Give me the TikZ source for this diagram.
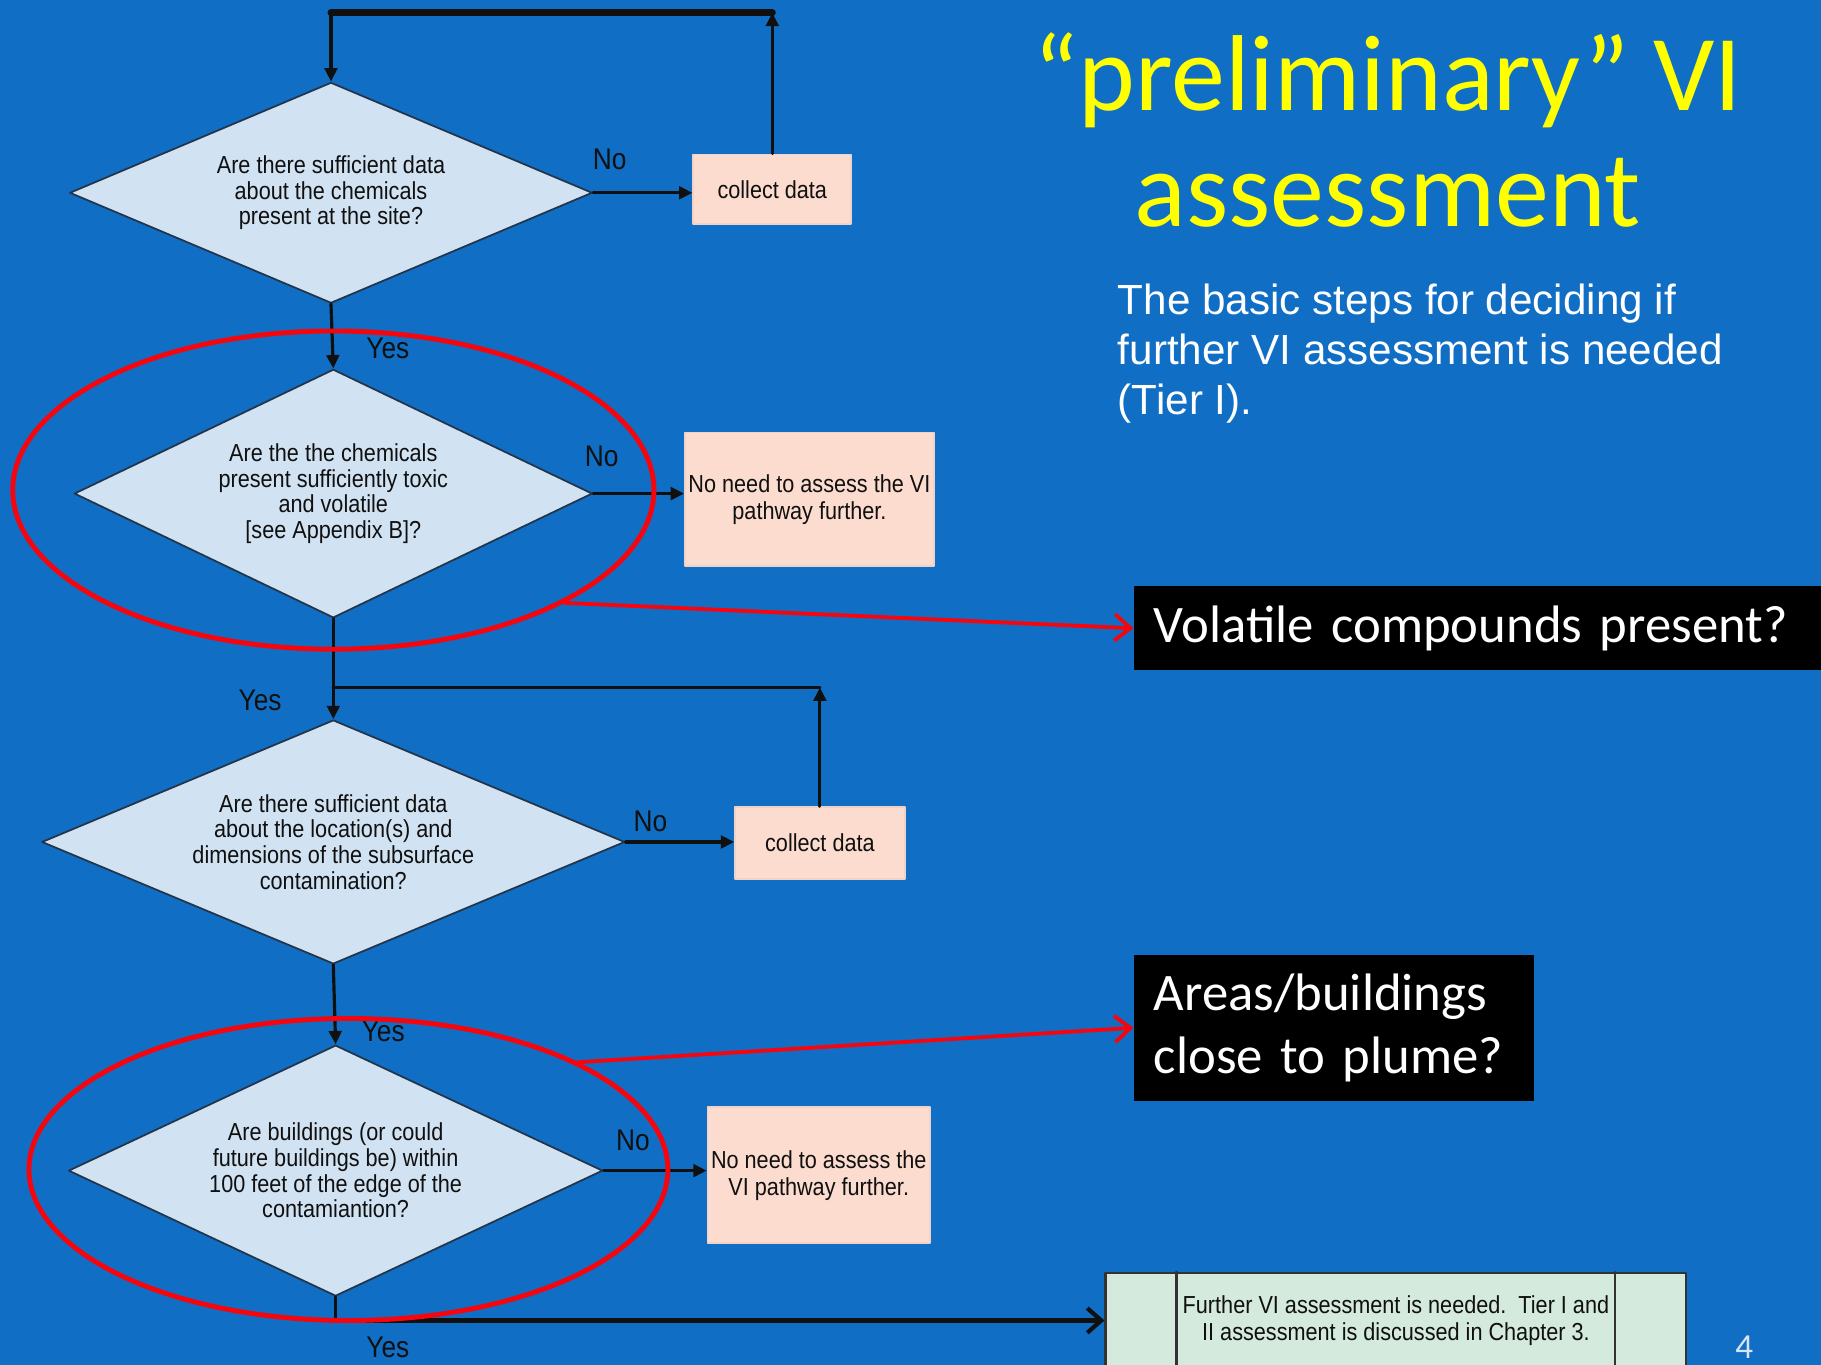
\documentclass[tikz,border=0pt]{standalone}
\usepackage{fontspec}
\setmainfont{Carlito}
\newfontfamily\subfont{Liberation Sans}
\newfontfamily\chartfont{Liberation Sans}[FakeStretch=0.88]
\usepackage{tikz}
\usetikzlibrary{arrows.meta,positioning,calc,shapes.geometric}
\definecolor{slide}{HTML}{106EC4}
\definecolor{titleyellow}{HTML}{FFFF00}
\definecolor{diafill}{HTML}{D1E2F2}
\definecolor{diadraw}{HTML}{23354A}
\definecolor{peach}{HTML}{FCDCCF}
\definecolor{peachline}{HTML}{EFD3C8}
\definecolor{mint}{HTML}{D4EADD}
\definecolor{markred}{HTML}{F5060F}
\definecolor{ink}{HTML}{101010}
\definecolor{pagegray}{HTML}{D6E4F4}
\tikzset{
    every picture/.style={line cap=round,line join=round},
    decision/.style={diamond,draw=diadraw,fill=diafill,line width=0.5pt,
      shape aspect=2.2,inner sep=0pt,text=ink,align=center,
      font=\chartfont\fontsize{7}{7.3}\selectfont},
    action/.style={rectangle,draw=peachline,fill=peach,line width=0.5pt,
      inner sep=1pt,text=ink,align=center,
      font=\chartfont\fontsize{7}{7.6}\selectfont},
    outcome/.style={rectangle,draw=black!80,fill=mint,line width=0.6pt,
      inner sep=1pt,text=ink,align=center,
      font=\chartfont\fontsize{7}{7.6}\selectfont},
    ring/.style={ellipse,draw=markred,line width=1.4pt,inner sep=0pt},
    callout/.style={fill=black,text=white,align=left,inner xsep=0.197cm,
      inner ysep=0pt,font=\fontsize{15}{18}\selectfont},
    answer/.style={inner sep=0pt,text=ink,
      font=\chartfont\fontsize{8.5}{9}\selectfont},
    link/.style={draw=ink,line width=0.9pt},
    flow/.style={-{Triangle[length=3.8pt,width=3.6pt]},draw=ink,line width=0.9pt},
    heavy/.style={draw=ink,line width=2pt},
    yesflow/.style={-{Straight Barb[length=4pt,width=7pt]},draw=ink,line width=1.2pt},
    pointer/.style={-{Straight Barb[length=4.5pt,width=7.5pt]},draw=markred,
      line width=1.1pt}
}
\begin{document}
\begin{tikzpicture}[x=0.011614cm,y=-0.011614cm]
  \fill[slide] (0,0) rectangle (1568,1175);
  \useasboundingbox (0,0) rectangle (1568,1175);

  \node[decision,minimum width=5.226cm,minimum height=2.207cm] (d1) at (285,166)
    {Are there sufficient data\\about the chemicals\\present at the site?};
  \node[decision,minimum width=5.180cm,minimum height=2.485cm] (d2) at (287,425)
    {Are the the chemicals\\present sufficiently toxic\\and volatile\\{[}see Appendix B{]}?};
  \node[decision,minimum width=5.830cm,minimum height=2.439cm] (d3) at (287,725)
    {Are there sufficient data\\about the location(s) and\\dimensions of the subsurface\\contamination?};
  \node[decision,minimum width=5.342cm,minimum height=2.509cm] (d4) at (289,1008)
    {Are buildings (or could\\future buildings be) within\\100 feet of the edge of the\\contamiantion?};

  \node[action,minimum width=1.580cm,minimum height=0.697cm] (c1) at (665,163) {collect data};
  \node[action,minimum width=2.485cm,minimum height=1.336cm] (n2) at (697,430)
    {No need to assess the VI\\pathway further.};
  \node[action,minimum width=1.696cm,minimum height=0.720cm] (c3) at (706,726) {collect data};
  \node[action,minimum width=2.218cm,minimum height=1.359cm] (n4) at (705,1012)
    {No need to assess the\\VI pathway further.};
  \node[outcome,minimum width=5.807cm,minimum height=0.952cm] (fin) at (1202,1137)
    {Further VI assessment is needed.\ \ Tier I and\\II assessment is discussed in Chapter 3.};
  \draw[line width=0.6pt,black!80] ([xshift=0.72cm]fin.north west) -- ([xshift=0.72cm]fin.south west);
  \draw[line width=0.6pt,black!80] ([xshift=-0.72cm]fin.north east) -- ([xshift=-0.72cm]fin.south east);

  \coordinate (t1) at (665,11);
  \coordinate (t0) at (285,11);
  \coordinate (t3) at (706,592);
  \coordinate (j3) at (287,592);
  \coordinate (j4) at (289,1137);

  \draw[flow] (c1.north) -- (t1);
  \draw[heavy] (t1) -- (t0);
  \draw[flow] (t0) -- (d1.north);
  \draw[flow] (d1.east) -- (d1.east -| c1.west);
  \draw[flow] (d1.south) -- (d2.north);
  \draw[flow] (d2.east) -- (d2.east -| n2.west);
  \draw[flow] (d2.south) -- (d3.north);
  \draw[flow] (c3.north) -- (t3);
  \draw[link] (t3) -- (j3);
  \draw[flow] (d3.east) -- (d3.east -| c3.west);
  \draw[flow] (d3.south) -- (d4.north);
  \draw[flow] (d4.east) -- (d4.east -| n4.west);
  \draw[link] (d4.south) -- (j4);
  \draw[yesflow] (j4) -- (fin.west);

  \node[answer] (no1) at (525,137) {No};
  \node[answer] (yes1) at (334,300) {Yes};
  \node[answer] (no2) at (518,393) {No};
  \node[answer] (yes2) at (224,603) {Yes};
  \node[answer] (no3) at (560,707) {No};
  \node[answer] (yes3) at (330,888) {Yes};
  \node[answer] (no4) at (545,982) {No};
  \node[answer] (yes4) at (334,1160) {Yes};

  \node[ring,minimum width=6.411cm,minimum height=3.182cm] (e1) at (287,422) {};
  \node[ring,minimum width=6.388cm,minimum height=3.020cm] (e2) at (300,1007) {};

  \node[callout,text width=6.481cm,minimum height=0.836cm,anchor=west] (vol) at (976,541)
    {Volatile compounds present?};
  \node[callout,text width=3.600cm,minimum height=1.463cm,anchor=west] (area) at (976,885)
    {Areas/buildings\\close to plume?};
  \draw[pointer] (e1.-26) -- (vol.west);
  \draw[pointer] (e2.25) -- (area.west);

  \node[text=titleyellow,align=center,font=\fontsize{30.7}{33}\selectfont] (title) at (1195,112)
    {“preliminary” VI\\assessment};
  \node[anchor=north west,inner sep=0pt,align=left,text=white,
    font=\subfont\fontsize{12}{14.2}\selectfont] (steps) at (962,244)
    {The basic steps for deciding if\\further VI assessment is needed\\(Tier I).};
  \node[inner sep=0pt,text=pagegray,font=\fontsize{10}{12}\selectfont] (page) at (1502,1160) {4};
\end{tikzpicture}
\end{document}
